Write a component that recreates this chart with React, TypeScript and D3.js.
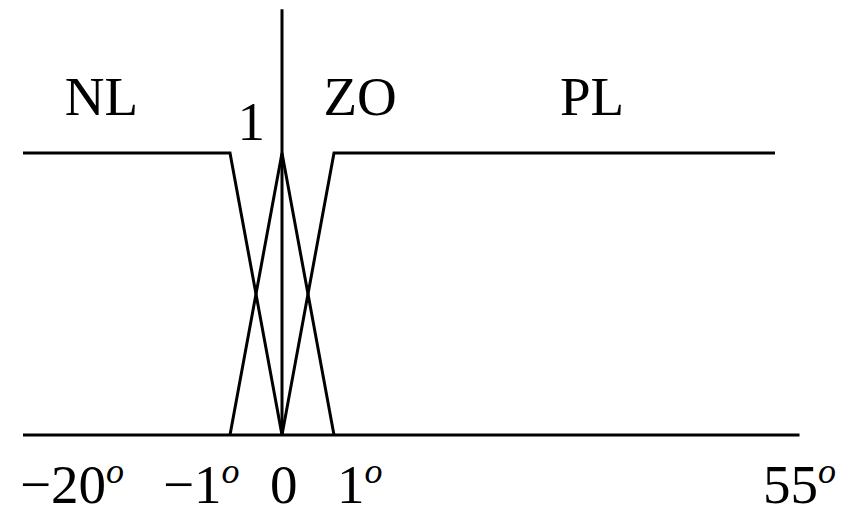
import React from 'react';
import * as d3 from 'd3';

const W = 850;
const H = 515;

// Fuzzy sets over the error angle (degrees): membership breakpoints
const breakpoints = [-20, -1, 0, 1, 55];
const axisEnd = 58;
const muTop = 1.51;

const nlPoints: [number, number][] = [[-20, 1], [-1, 1], [0, 0]];
const zoPoints: [number, number][] = [[-1, 0], [0, 1], [1, 0]];
const plPoints: [number, number][] = [[0, 0], [1, 1], [55, 1]];

const setNames = ['NL', 'ZO', 'PL'];
const tickValues = [-20, -1, 0, 1, 55];
const tickLabels = ['\u221220', '\u22121', '0', '1', '55'];
const tickDegree = [true, true, false, true, true];
const muLabel = '1';

// Layout: where the set names sit along the axis, and label nudges in px
const setNameAt = [-12.8, 4.2, 32.6];
const tickNudge = [-3, -67, -12, 3, -12];

const FONT = 'Liberation Serif';
const SIZE = 55;

function Label({ x, y, children, anchor = 'start' }: { x: number; y: number; children: React.ReactNode; anchor?: string }) {
  return (
    <text x={x} y={y} style={{ fontFamily: FONT, fontSize: SIZE }} fill="#000" textAnchor={anchor as any}>
      {children}
    </text>
  );
}

export default function App() {
  const x = d3.scaleLinear().domain(breakpoints).range([23, 230, 282, 334, 775]);
  const y = d3.scaleLinear().domain([0, 1]).range([435, 153]);
  const line = d3.line<[number, number]>().x(d => x(d[0])).y(d => y(d[1]));

  const sets = [nlPoints, zoPoints, plPoints];

  return (
    <svg width={W} height={H} style={{ position: 'absolute', left: 0, top: 0, background: '#fff' }}>
      <rect width={W} height={H} fill="#fff" />
      {/* horizontal axis */}
      <line x1={x(-20)} x2={x(axisEnd)} y1={y(0)} y2={y(0)} stroke="#000" strokeWidth={3} />
      {/* membership axis */}
      <line x1={x(0)} x2={x(0)} y1={y(0)} y2={y(muTop)} stroke="#000" strokeWidth={3} />
      {sets.map((pts, i) => (
        <path key={i} d={line(pts) || ''} fill="none" stroke="#000" strokeWidth={3} strokeLinejoin="miter" />
      ))}
      {setNames.map((n, i) => (
        <Label key={n} x={x(setNameAt[i])} y={y(1) - 38} anchor="middle">{n}</Label>
      ))}
      <Label x={x(0) - 17} y={y(1) - 13} anchor="end">{muLabel}</Label>
      {tickValues.map((v, i) => (
        <Label key={v} x={x(v) + tickNudge[i]} y={y(0) + 68}>
          {tickLabels[i]}
          <tspan style={{ fontSize: 36, fontStyle: 'italic' }} dy={-20}>{tickDegree[i] ? 'o' : ''}</tspan>
        </Label>
      ))}
    </svg>
  );
}
